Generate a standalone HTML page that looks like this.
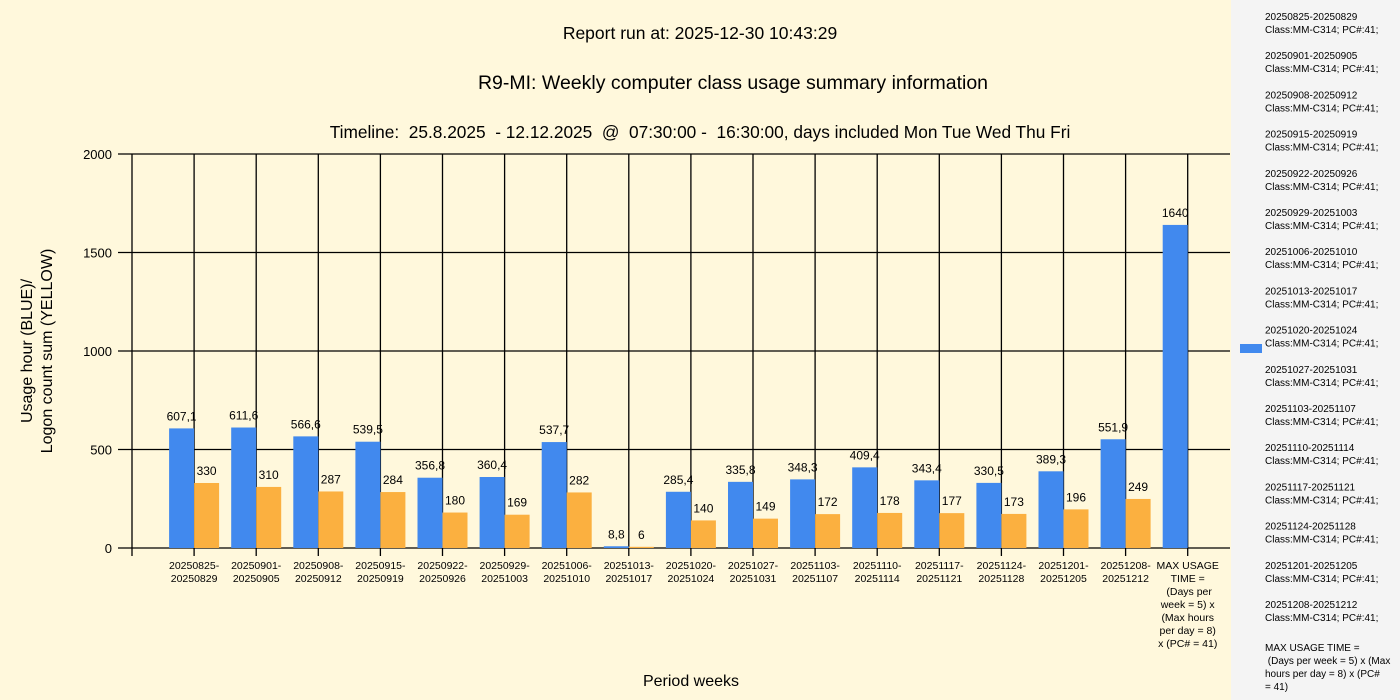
<!DOCTYPE html>
<html><head><meta charset="utf-8">
<style>
body{margin:0;width:1400px;height:700px;overflow:hidden;background:#fff8dc;font-family:"Liberation Sans",sans-serif;}
#legend{position:absolute;left:1231px;top:0;width:169px;height:700px;background:#f4f4f4;}
svg{position:absolute;left:0;top:0;}
text{white-space:pre;}
</style></head>
<body>
<div id="legend"></div>
<svg id="chart" width="1400" height="700"></svg>
<script>
const categories=["20250825-20250829","20250901-20250905","20250908-20250912","20250915-20250919","20250922-20250926","20250929-20251003","20251006-20251010","20251013-20251017","20251020-20251024","20251027-20251031","20251103-20251107","20251110-20251114","20251117-20251121","20251124-20251128","20251201-20251205","20251208-20251212","MAX"];
const usageHours=[607.1,611.6,566.6,539.5,356.8,360.4,537.7,8.8,285.4,335.8,348.3,409.4,343.4,330.5,389.3,551.9,1640];
const logonCounts=[330,310,287,284,180,169,282,6,140,149,172,178,177,173,196,249,null];
const yTicks=[0,500,1000,1500,2000];
const NS="http://www.w3.org/2000/svg";
const svg=document.getElementById('chart');
const X0=132,XR=1230,Y0=548,YT=154,STEP=62.1,BW=25;
const y=v=>Y0-(v/2000)*(Y0-YT);
const xc=i=>X0+STEP*(i+1);
function el(tag,attrs,parent){const e=document.createElementNS(NS,tag);for(const k in attrs)e.setAttribute(k,attrs[k]);(parent||svg).appendChild(e);return e;}
function txt(x,yy,s,size,anchor,name,parent){const t=el('text',{x:x,y:yy,'font-size':size,'text-anchor':anchor||'middle',fill:'#000','font-family':'"Liberation Sans",sans-serif'},parent);t.textContent=s;return t;}
txt(700,39,"Report run at: 2025-12-30 10:43:29",17.5,'middle','report-run-time');
txt(733,89,"R9-MI: Weekly computer class usage summary information",19.5,'middle','chart-title');
txt(700,138,"Timeline:  25.8.2025  - 12.12.2025  @  07:30:00 -  16:30:00, days included Mon Tue Wed Thu Fri",17.3,'middle','timeline-subtitle');
yTicks.forEach(v=>{
  const l=el('line',{x1:118,x2:XR,y1:y(v),y2:y(v),stroke:'#000','stroke-width':1.3});
  
  
  txt(112,y(v)+5,String(v),13,'end','y-tick-label');
});
const ax=el('line',{x1:X0,x2:X0,y1:YT,y2:Y0+8,stroke:'#000','stroke-width':1.3});


categories.forEach((c,i)=>{
  const g=el('line',{x1:xc(i),x2:xc(i),y1:YT,y2:Y0+8,stroke:'#000','stroke-width':1.3});
  
  
});
categories.forEach((c,i)=>{
  const b=usageHours[i];
  const r=el('rect',{x:xc(i)-BW,y:y(b),width:BW,height:Y0-y(b),fill:'#4189ee'});
  
  
  txt(xc(i)-BW/2,y(b)-8,String(b).replace('.',','),12,'middle','bar-value-label');
  const o=logonCounts[i];
  if(o!==null){
    const r2=el('rect',{x:xc(i),y:y(o),width:BW,height:Y0-y(o),fill:'#fbb040'});
    
    
    txt(xc(i)+BW/2,y(o)-8,String(o),12,'middle','bar-value-label');
  }
});
categories.forEach((c,i)=>{
  if(c==="MAX"){
    ["MAX USAGE","TIME ="," (Days per","week = 5) x","(Max hours","per day = 8)","x (PC# = 41)"].forEach((s,k)=>txt(xc(i),569+k*13,s,10.5,'middle','x-tick-label'));
  } else {
    const p=c.split('-');
    txt(xc(i),569,p[0]+'-',10.5,'middle','x-tick-label');
    txt(xc(i),582,p[1],10.5,'middle','x-tick-label');
  }
});
txt(691,686,"Period weeks",16,'middle','x-axis-title');
const yt=el('g',{transform:'translate(38,351) rotate(-90)'});


txt(0,-6,"Usage hour (BLUE)/",16,'middle','y-axis-title-line1',yt);
txt(0,14,"Logon count sum (YELLOW)",16,'middle','y-axis-title-line2',yt);
const lg=el('rect',{x:1240,y:344,width:22,height:9,fill:'#4189ee'});


categories.forEach((c,i)=>{
  const ly=20+i*39.2;
  if(c==="MAX"){
    ["MAX USAGE TIME ="," (Days per week = 5) x (Max","hours per day = 8) x (PC#","= 41)"].forEach((s,k)=>txt(1265,ly+4+k*13,s,10,'start','legend-entry'));
  } else {
    txt(1265,ly,c,10,'start','legend-entry');
    txt(1265,ly+13,"Class:MM-C314; PC#:41;",10,'start','legend-entry');
  }
});
</script>
</body></html>
